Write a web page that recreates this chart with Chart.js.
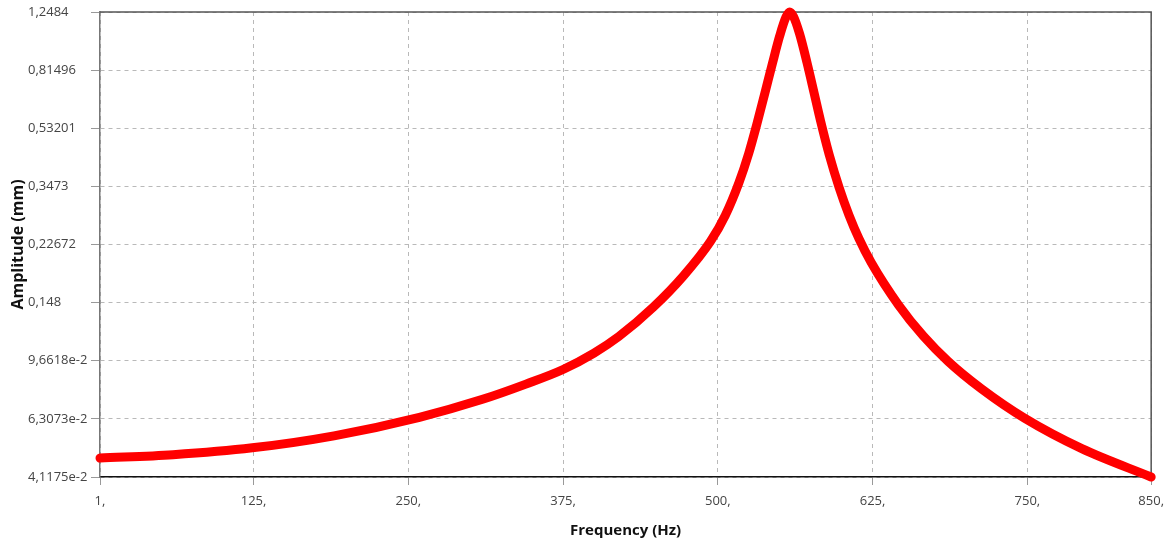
<!DOCTYPE html>
<html>
<head>
<meta charset="utf-8">
<script src="https://cdn.jsdelivr.net/npm/chart.js@4/dist/chart.umd.min.js"></script>
<style>
  html, body { margin: 0; padding: 0; background: #fff; }
  canvas { display: block; }
</style>
</head>
<body>
<canvas id="chartFreq" width="1172" height="545"></canvas>
<script>
// frequency (Hz) and amplitude (mm)
const FREQ = [1, 60, 124, 190, 259, 310, 345, 375, 400, 420, 448, 472, 494, 506, 517, 525, 531, 538, 544, 550, 555, 558,
  561, 566, 572, 578, 583, 590, 598, 606, 614, 624, 646, 666, 686, 713, 748, 794, 850];
const AMPL = [0.0473, 0.0485, 0.0510, 0.0557, 0.0638, 0.0728, 0.0814, 0.0906, 0.1022, 0.1154, 0.1433, 0.1796, 0.2316, 0.2805, 0.3563, 0.4430, 0.5385, 0.6888, 0.8532, 1.0483, 1.2015, 1.2484,
  1.2106, 1.0653, 0.8619, 0.6827, 0.5612, 0.4377, 0.3442, 0.2809, 0.2367, 0.1983, 0.1454, 0.1158, 0.0962, 0.0786, 0.0633, 0.0507, 0.041175];

const X_TICKS = [1, 125, 250, 375, 500, 625, 750, 850];
const X_TICK_LABELS = ['1,', '125,', '250,', '375,', '500,', '625,', '750,', '850,'];
const Y_TICKS = [0.041175, 0.063073, 0.096618, 0.148, 0.22672, 0.3473, 0.53201, 0.81496, 1.2484];
const Y_TICK_LABELS = ['4,1175e-2', '6,3073e-2', '9,6618e-2', '0,148', '0,22672', '0,3473', '0,53201', '0,81496', '1,2484'];

Chart.defaults.font.family = '"Open Sans", "Noto Sans", sans-serif';
Chart.defaults.font.size = 13;
Chart.defaults.color = '#444';

// top and right edges of the frame
const framePlugin = {
  id: 'frame',
  beforeDatasetsDraw(chart) {
    const { ctx, chartArea: a } = chart;
    ctx.save();
    ctx.strokeStyle = '#555';
    ctx.lineWidth = 1.5;
    ctx.beginPath();
    ctx.moveTo(a.left, a.top);
    ctx.lineTo(a.right, a.top);
    ctx.lineTo(a.right, a.bottom);
    ctx.stroke();
    ctx.restore();
  }
};

const points = FREQ.map((f, i) => ({ x: f, y: AMPL[i] }));

new Chart(document.getElementById('chartFreq').getContext('2d'), {
  type: 'line',
  data: {
    datasets: [{
      data: points,
      borderColor: '#ff0000',
      borderWidth: 9,
      borderCapStyle: 'round',
      borderJoinStyle: 'round',
      pointRadius: 0,
      cubicInterpolationMode: 'monotone',
      clip: false
    }]
  },
  options: {
    responsive: false,
    animation: false,
    layout: { padding: { left: 28, right: 19, top: 12, bottom: 0 } },
    plugins: { legend: { display: false }, tooltip: { enabled: false } },
    scales: {
      x: {
        type: 'linear',
        min: 1,
        max: 850,
        afterBuildTicks: s => { s.ticks = X_TICKS.map(v => ({ value: v })); },
        afterFit: s => { s.height = 68; },
        ticks: {
          padding: 8,
          maxRotation: 0,
          autoSkip: false,
          callback: (v, i) => X_TICK_LABELS[i]
        },
        grid: { color: '#b9b9b9', tickLength: 8, tickColor: '#999' },
        border: { color: '#111', width: 1.5, dash: [4, 4] },
        title: {
          display: true,
          text: 'Frequency (Hz)',
          color: '#111',
          font: { size: 15, weight: 'bold' },
          padding: { top: 0, bottom: 5 }
        }
      },
      y: {
        type: 'logarithmic',
        min: 0.041175,
        max: 1.2484,
        afterBuildTicks: s => { s.ticks = Y_TICKS.map(v => ({ value: v })); },
        afterFit: s => { s.width = 72; },
        ticks: {
          crossAlign: 'far',
          autoSkip: false,
          callback: (v, i) => Y_TICK_LABELS[i]
        },
        grid: { color: '#b9b9b9', tickLength: 9, tickColor: '#999' },
        border: { color: '#777', width: 1.5, dash: [4, 4] },
        title: {
          display: true,
          text: 'Amplitude (mm)',
          color: '#111',
          font: { size: 16, weight: 'bold' },
          padding: { top: -19.6, bottom: 0 }
        }
      }
    }
  },
  plugins: [framePlugin]
});
</script>
</body>
</html>
